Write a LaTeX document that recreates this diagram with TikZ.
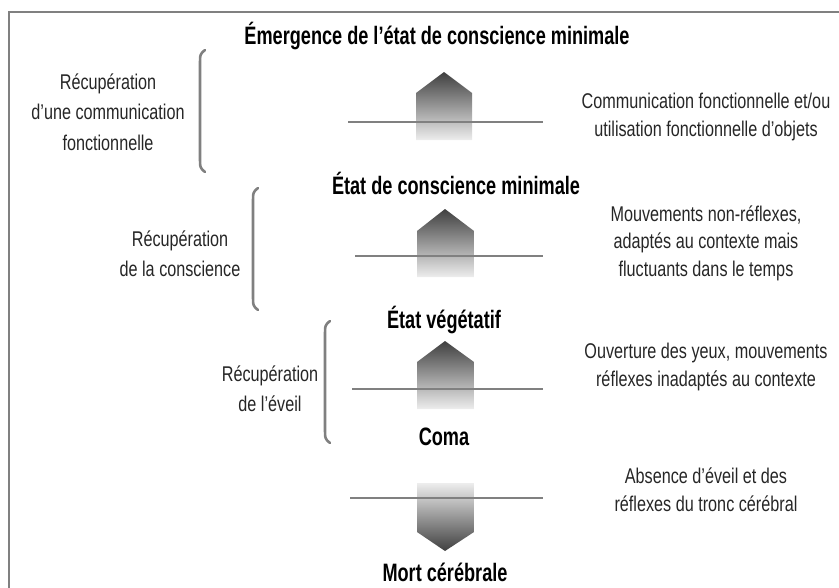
\documentclass[tikz,border=0pt]{standalone}
\usepackage{fontspec}
\setmainfont{Liberation Sans}[FakeStretch=0.76]
\newfontfamily\titre{Liberation Sans}[FakeStretch=0.72]
\usepackage{tikz}
\usepackage{xcolor}
\definecolor{txt}{gray}{0.15}
\definecolor{rule}{gray}{0.5}

\begin{document}
\begin{tikzpicture}[x=0.03cm, y=-0.03cm,
    etat/.style={font=\titre\fontsize{21.5pt}{22pt}\selectfont\bfseries, inner sep=0pt},
    note/.style={font=\fontsize{18.2pt}{23.5pt}\selectfont, text=txt, align=center, inner sep=0pt},
    seuil/.style={draw=rule, line width=1.6pt},
    crochet/.style={draw=rule, line width=2.2pt, line cap=round},
    fleche/.style={top color=black!75, bottom color=black!7, draw=none}]
                \useasboundingbox (0,0) rectangle (839,587);
                \draw[gray, line width=1.6pt] (9,600) -- (9,12) -- (850,12);

                \node[etat] (emcm) at (437,36) {Émergence de l’état de conscience minimale};
                \node[etat] (ecm) at (456,183) {État de conscience minimale};
                \node[etat] (ev) at (444,320) {État végétatif};
                \node[etat] (coma) at (444,437) {Coma};
                \node[etat] (mort) at (445,572) {Mort cérébrale};

                \shade[fleche] (416,140) -- (416,93) -- (444,72) -- (472,93) -- (472,140) -- cycle;
                \shade[fleche] (417,277) -- (417,231) -- (445,209) -- (474,231) -- (474,277) -- cycle;
                \shade[fleche] (417,409) -- (417,362) -- (445,341) -- (474,362) -- (474,409) -- cycle;
                \shade[top color=black!7, bottom color=black!75] (417,483) -- (474,483) -- (474,532) -- (445,551) -- (417,532) -- cycle;

                \draw[seuil] (348,122) -- (543,122);
                \draw[seuil] (355,256) -- (543,256);
                \draw[seuil] (352,389) -- (543,389);
                \draw[seuil] (350,498) -- (543,498);

                \draw[crochet] (205,50) .. controls (200,54) .. (200,66) -- (200,156) .. controls (200,168) .. (205,172);
                \draw[crochet] (258,188) .. controls (253,192) .. (253,204) -- (253,294) .. controls (253,306) .. (258,310);
                \draw[crochet] (330,321) .. controls (325,325) .. (325,337) -- (325,427) .. controls (325,439) .. (330,443);

                \node[note, font=\fontsize{18.2pt}{26pt}\selectfont] (rcom) at (108,112) {Récupération\\d’une communication\\fonctionnelle};
                \node[note, font=\fontsize{18.2pt}{26pt}\selectfont] (rcon) at (180,254) {Récupération\\de la conscience};
                \node[note, font=\fontsize{18.2pt}{26pt}\selectfont] (reve) at (270,389) {Récupération\\de l’éveil};

                \node[note] (dcom) at (706,117) {Communication fonctionnelle et/ou\\utilisation fonctionnelle d’objets};
                \node[note] (dcon) at (706,243) {Mouvements non-réflexes,\\adaptés au contexte mais\\fluctuants dans le temps};
                \node[note] (deve) at (706,367) {Ouverture des yeux, mouvements\\réflexes inadaptés au contexte};
                \node[note] (dmor) at (706,490) {Absence d’éveil et des\\réflexes du tronc cérébral};
            \end{tikzpicture}
\end{document}
